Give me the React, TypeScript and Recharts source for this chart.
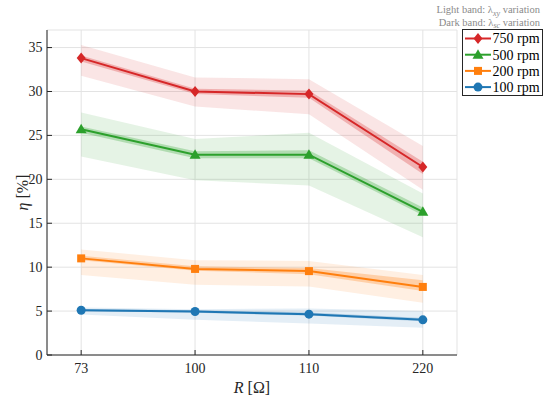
import React from "react";
import {
  Area,
  CartesianGrid,
  ComposedChart,
  Label,
  Line,
  XAxis,
  YAxis,
} from "recharts";

// R [Ω] categories
const categories = ["73", "100", "110", "220"];

// efficiency per speed
const eta750 = [33.8, 30.0, 29.7, 21.4];
const eta500 = [25.7, 22.8, 22.8, 16.3];
const eta200 = [11.0, 9.8, 9.55, 7.75];
const eta100 = [5.1, 4.95, 4.65, 4.0];

// light band: lambda_xy variation [low, high]
const light750 = [[31.8, 35.3], [28.3, 31.6], [27.4, 31.4], [18.8, 23.8]];
const light500 = [[22.6, 27.6], [19.9, 24.6], [19.3, 25.3], [13.4, 18.4]];
const light200 = [[9.1, 12.0], [8.0, 10.8], [7.8, 10.7], [5.95, 9.1]];
const light100 = [[4.6, 5.4], [4.0, 5.2], [3.6, 5.3], [3.1, 5.0]];

// dark band: lambda_sc variation [low, high]
const dark750 = [[33.4, 34.1], [29.7, 30.3], [29.3, 30.1], [20.6, 22.0]];
const dark500 = [[25.3, 26.0], [22.4, 23.2], [22.4, 23.3], [15.9, 16.8]];
const dark200 = [[10.8, 11.3], [9.6, 10.1], [9.2, 9.9], [7.3, 8.5]];
const dark100 = [[5.0, 5.25], [4.8, 5.1], [4.5, 4.85], [3.85, 4.2]];

const yTicks = [0, 5, 10, 15, 20, 25, 30, 35];

const series = [
  { key: "s750", name: "750 rpm", color: "#d62728", marker: "diamond", values: eta750, light: light750, dark: dark750 },
  { key: "s500", name: "500 rpm", color: "#2ca02c", marker: "triangle", values: eta500, light: light500, dark: dark500 },
  { key: "s200", name: "200 rpm", color: "#ff7f0e", marker: "square", values: eta200, light: light200, dark: dark200 },
  { key: "s100", name: "100 rpm", color: "#1f77b4", marker: "circle", values: eta100, light: light100, dark: dark100 },
];

const data = categories.map((label, i) => {
  const row: Record<string, any> = { idx: i, label };
  series.forEach((s) => {
    row[s.key] = s.values[i];
    row[s.key + "L"] = s.light[i];
    row[s.key + "D"] = s.dark[i];
  });
  return row;
});

const FONT = '"Liberation Serif", "DejaVu Serif", serif';
const INK = "#262626";

const Marker = ({ cx, cy, kind, color }: { cx: number; cy: number; kind: string; color: string }) => {
  if (cx == null || cy == null) return null;
  if (kind === "diamond") {
    return <polygon points={`${cx},${cy - 5.5} ${cx + 4.5},${cy} ${cx},${cy + 5.5} ${cx - 4.5},${cy}`} fill={color} />;
  }
  if (kind === "triangle") {
    return <polygon points={`${cx},${cy - 5.5} ${cx + 5.5},${cy + 4} ${cx - 5.5},${cy + 4}`} fill={color} />;
  }
  if (kind === "square") {
    return <rect x={cx - 4} y={cy - 4} width={8} height={8} fill={color} />;
  }
  return <circle cx={cx} cy={cy} r={4.5} fill={color} />;
};

const XTick = ({ x, y, payload }: any) => (
  <g>
    <line x1={x} y1={y} x2={x} y2={y - 5} stroke={INK} />
    <text x={x} y={y + 18} textAnchor="middle" fontSize={14} fontFamily={FONT} fill={INK}>
      {categories[payload.value]}
    </text>
  </g>
);

const YTick = ({ x, y, payload }: any) => (
  <g>
    <line x1={x} y1={y} x2={x + 5} y2={y} stroke={INK} />
    <text x={x - 4.5} y={y} dy="0.35em" textAnchor="end" fontSize={14} fontFamily={FONT} fill={INK}>
      {payload.value}
    </text>
  </g>
);

const TopTick = ({ x, y }: any) => <line x1={x} y1={y} x2={x} y2={y + 5} stroke={INK} />;
const RightTick = ({ x, y }: any) => <line x1={x} y1={y} x2={x - 5} y2={y} stroke={INK} />;

const LegendBox = () => (
  <svg width={82} height={68} style={{ position: "absolute", left: 462, top: 29 }}>
    <rect x={0.5} y={0.5} width={80} height={66} fill="#fff" stroke={INK} />
    {series.map((s, i) => {
      const cy = 9.5 + i * 16.2;
      return (
        <g key={s.key}>
          <line x1={3} y1={cy} x2={29} y2={cy} stroke={s.color} strokeWidth={2} />
          <Marker cx={16} cy={cy} kind={s.marker} color={s.color} />
          <text x={30.5} y={cy} dy="0.35em" fontSize={14} fontFamily={FONT} fill="#000">
            {s.name}
          </text>
        </g>
      );
    })}
  </svg>
);

const App = () => (
  <div style={{ position: "absolute", left: 0, top: 0, width: 550, height: 403, background: "#fff" }}>
    <ComposedChart width={550} height={403} data={data} margin={{ top: 30, right: 93, bottom: 8, left: 7 }}>
      <CartesianGrid stroke="#e3e3e3" />
      <XAxis
        xAxisId={0}
        type="number"
        dataKey="idx"
        domain={[-0.3, 3.3]}
        ticks={[0, 1, 2, 3]}
        height={40}
        tickSize={0}
        tickMargin={0}
        tickLine={false}
        axisLine={{ stroke: INK }}
        tick={<XTick />}
      >
        <Label
          content={({ viewBox }: any) => (
            <text
              x={viewBox.x + viewBox.width / 2}
              y={viewBox.y + 38}
              textAnchor="middle"
              fontSize={16}
              fontFamily={FONT}
              fill={INK}
            >
              <tspan fontStyle="italic">R</tspan> [Ω]
            </text>
          )}
        />
      </XAxis>
      <XAxis
        xAxisId="top"
        orientation="top"
        type="number"
        dataKey="idx"
        domain={[-0.3, 3.3]}
        ticks={[0, 1, 2, 3]}
        height={0}
        tickSize={0}
        tickMargin={0}
        tickLine={false}
        axisLine={{ stroke: INK }}
        tick={<TopTick />}
      />
      <YAxis
        yAxisId={0}
        domain={[0, 37]}
        ticks={yTicks}
        width={40}
        tickSize={0}
        tickMargin={0}
        tickLine={false}
        axisLine={{ stroke: INK }}
        tick={<YTick />}
        allowDataOverflow
      >
        <Label
          content={({ viewBox }: any) => {
            const cx = viewBox.x + 15;
            const cy = viewBox.y + viewBox.height / 2;
            return (
              <text
                x={cx}
                y={cy}
                transform={`rotate(-90 ${cx} ${cy})`}
                textAnchor="middle"
                dy="0.35em"
                fontSize={16}
                fontFamily={FONT}
                fill={INK}
              >
                <tspan fontStyle="italic">η</tspan> [%]
              </text>
            );
          }}
        />
      </YAxis>
      <YAxis
        yAxisId="right"
        orientation="right"
        domain={[0, 37]}
        ticks={yTicks}
        width={0}
        tickSize={0}
        tickMargin={0}
        tickLine={false}
        axisLine={{ stroke: INK }}
        tick={<RightTick />}
      />
      {series.map((s) => (
        <Area
          key={s.key + "L"}
          type="linear"
          dataKey={s.key + "L"}
          stroke="none"
          fill={s.color}
          fillOpacity={0.12}
          isAnimationActive={false}
          activeDot={false}
          legendType="none"
        />
      ))}
      {series.map((s) => (
        <Area
          key={s.key + "D"}
          type="linear"
          dataKey={s.key + "D"}
          stroke="none"
          fill={s.color}
          fillOpacity={0.28}
          isAnimationActive={false}
          activeDot={false}
          legendType="none"
        />
      ))}
      {series.map((s) => (
        <Line
          key={s.key}
          type="linear"
          dataKey={s.key}
          name={s.name}
          stroke={s.color}
          strokeWidth={2}
          isAnimationActive={false}
          activeDot={false}
          dot={(p: any) => <Marker key={`${s.key}-${p.index}`} cx={p.cx} cy={p.cy} kind={s.marker} color={s.color} />}
        />
      ))}
    </ComposedChart>
    <LegendBox />
    <svg width={550} height={30} style={{ position: "absolute", left: 0, top: 0 }}>
      <text x={540} y={13} textAnchor="end" fontSize={10.5} fontFamily={FONT} fill="#8a8a8a">
        Light band: λ<tspan fontStyle="italic" fontSize={8} dy={2.5}>xy</tspan>
        <tspan dy={-2.5}> variation</tspan>
      </text>
      <text x={540} y={25.5} textAnchor="end" fontSize={10.5} fontFamily={FONT} fill="#8a8a8a">
        Dark band: λ<tspan fontStyle="italic" fontSize={8} dy={2.5}>sc</tspan>
        <tspan dy={-2.5}> variation</tspan>
      </text>
    </svg>
  </div>
);

export default App;
